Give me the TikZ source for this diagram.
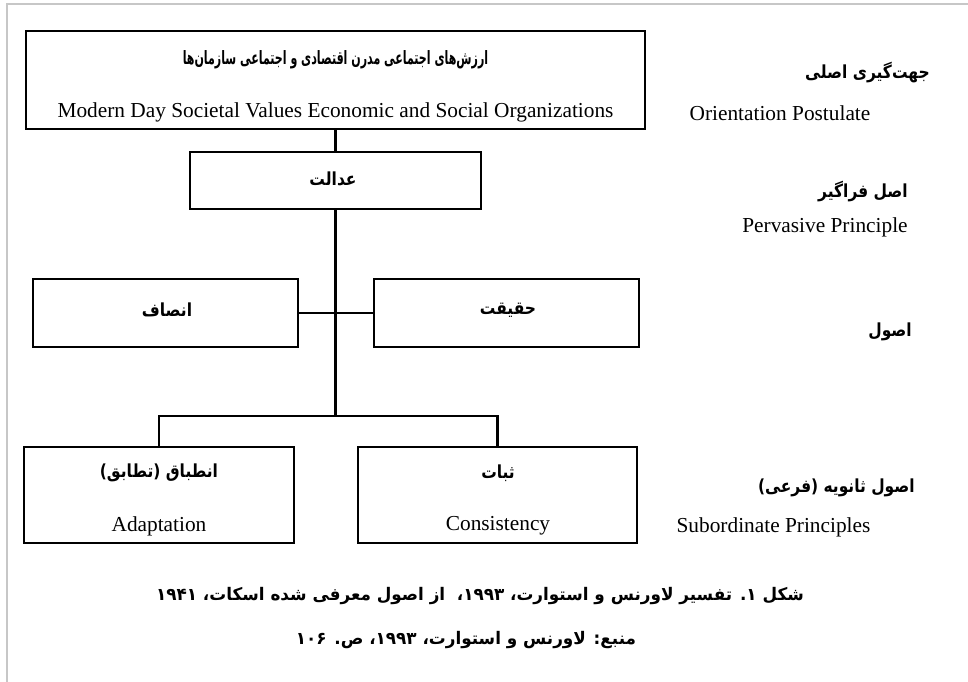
\documentclass[tikz,border=0pt]{standalone}
\usepackage{fontspec}
\setmainfont{Liberation Serif}
\newfontfamily\fafont[Script=Arabic,FakeStretch=0.86]{DejaVu Sans}
\newfontfamily\fatitlefont[Script=Arabic,FakeStretch=0.6]{DejaVu Sans}
\newfontfamily\facapfont[Script=Arabic,FakeStretch=0.97]{DejaVu Sans}
\TeXXeTstate=1
\newcommand{\fatxt}[1]{\beginR #1\endR}
\newcommand{\ltr}[1]{\beginL #1\endL}
\begin{document}
\begin{tikzpicture}[x=0.75pt,y=-0.75pt,
  box/.style={draw, line width=2pt, inner sep=0pt},
  conn/.style={line width=2pt},
  frame/.style={draw=black!22, line width=1.1pt},
  en/.style={font=\fontsize{16}{18}\selectfont, inner sep=0pt},
  fa/.style={font=\fontsize{13.5}{16}\fafont\bfseries, inner sep=0pt},
  fatitle/.style={font=\fontsize{13.8}{16}\fatitlefont\bfseries, inner sep=0pt},
  facap/.style={font=\fontsize{13}{16}\facapfont\bfseries, inner sep=0pt}]
\useasboundingbox (0,0) rectangle (968,682);
% outer frame
\draw[frame] (7,682) -- (7,4) -- (968,4);
% boxes
\node[box, minimum width=464.25pt, minimum height=73.5pt] (top) at (335.5,80) {};
\node[box, minimum width=218.25pt, minimum height=42.75pt] (just) at (335.5,180.5) {};
\node[box, minimum width=198.75pt, minimum height=51pt] (ensaf) at (165.5,313) {};
\node[box, minimum width=198.75pt, minimum height=51pt] (haq) at (506.5,313) {};
\node[box, minimum width=202.5pt, minimum height=72pt] (adapt) at (159,495) {};
\node[box, minimum width=209.25pt, minimum height=72pt] (sabat) at (497.5,495) {};
\coordinate (br) at (335.5,416);
% connectors
\draw[conn] (top.south) -- (just.north);
\draw[conn] (just.south) -- (br);
\draw[conn] (ensaf.east) -- (haq.west);
\draw[conn] (adapt.north) |- (br) -| (sabat.north);
% box texts
\node[fatitle] (topfa) at (335.5,60) {\fatxt{ارزش^^^^200cهای اجتماعی مدرن اقتصادی و اجتماعی سازمان^^^^200cها}};
\node[en] (topen) at (335.5,112) {Modern Day Societal Values Economic and Social Organizations};
\node[fa] (justfa) at (333,179) {\fatxt{عدالت}};
\node[fa] (ensaffa) at (167,310) {\fatxt{انصاف}};
\node[fa] (haqfa) at (508,310) {\fatxt{حقیقت}};
\node[fa] (adaptfa) at (159,473) {\fatxt{انطباق (تطابق)}};
\node[en] (adapten) at (159,526) {Adaptation};
\node[fa] (sabatfa) at (498,473) {\fatxt{ثبات}};
\node[en] (sabaten) at (498,526) {Consistency};
% right labels
\node[fa, anchor=east] (l1fa) at (930,73) {\fatxt{جهت^^^^200cگیری اصلی}};
\node[en] (l1en) at (780,113) {Orientation Postulate};
\node[fa, anchor=east] (l2fa) at (908,192) {\fatxt{اصل فراگیر}};
\node[en] (l2en) at (825,227) {Pervasive Principle};
\node[fa, anchor=east] (l3fa) at (912,332) {\fatxt{اصول}};
\node[fa, anchor=east] (l4fa) at (915,488) {\fatxt{اصول ثانویه (فرعی)}};
\node[en] (l4en) at (773.5,527) {Subordinate Principles};
% caption
\node[facap] (cap1) at (480,596) {\fatxt{شکل \ltr{۱}. تفسیر لاورنس و استوارت، \ltr{۱۹۹۳}،~~از اصول معرفی شده اسکات، \ltr{۱۹۴۱}}};
\node[facap] (cap2) at (466,640) {\fatxt{منبع: لاورنس و استوارت، \ltr{۱۹۹۳}، ص. \ltr{۱۰۶}}};
\end{tikzpicture}
\end{document}
